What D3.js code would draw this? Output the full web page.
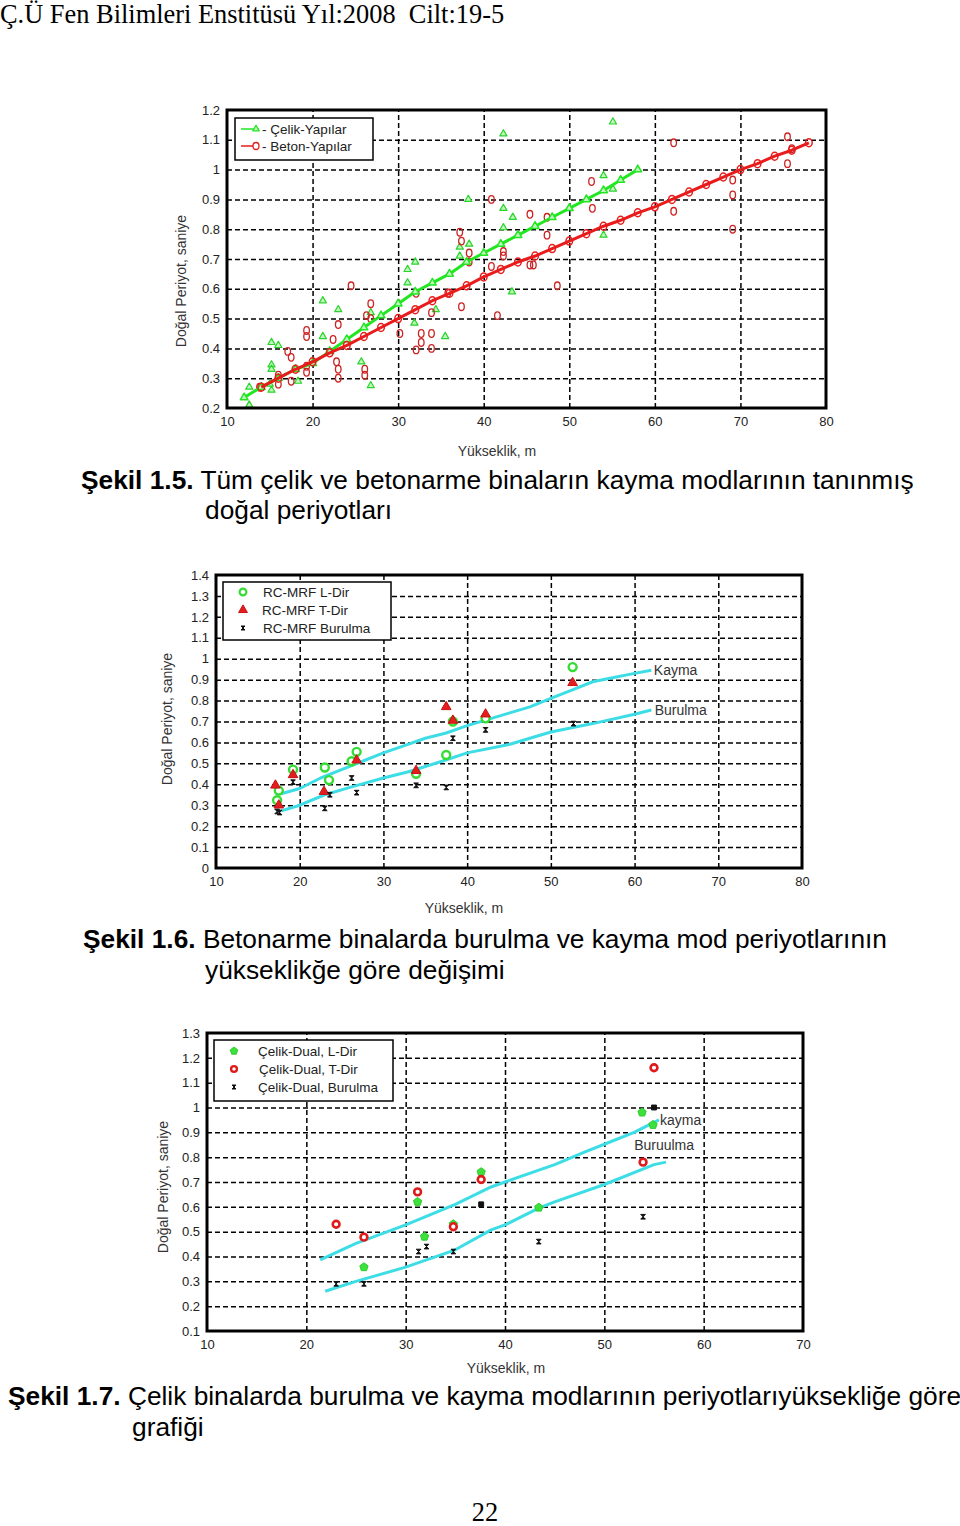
<!DOCTYPE html>
<meta charset="utf-8">
<style>
body { margin: 0; background: #fff; }
svg { display: block; background: #fff; }
.tick text { font-family: "Liberation Sans", Arial, sans-serif; font-size: 13px; fill: #222; }
.grid line { stroke: #000; stroke-dasharray: 5,3; stroke-width: 1.5px; }
.grid path, .grid text { display: none; }
.cap { font-family: "Liberation Sans", Arial, sans-serif; font-size: 26.3px; fill: #000; }
.lab { font-family: "Liberation Sans", Arial, sans-serif; font-size: 14px; fill: #333; }
.leg { font-family: "Liberation Sans", Arial, sans-serif; font-size: 13.5px; fill: #222; }
.serif { font-family: "Liberation Serif", "Times New Roman", serif; font-size: 26.4px; fill: #000; white-space: pre; }
</style>
<svg width="960" height="1526"></svg>
<script src="https://d3js.org/d3.v7.min.js"></script>
<script>

// ---- Şekil 1.5 : all steel / concrete buildings ----
var steelH = [12.6,12.6,15.2,16.0,15.2,15.2,15.2,15.0,18.3,21.2,21.2,23.0,25.7,26.8,26.8,31.1,31.1,32.0,31.9,34.4,35.5,37.2,37.2,38.3,38.2,42.3,42.3,42.3,54.0,55.1,55.1,43.4,54.0,43.3];
var steelT = [0.27,0.21,0.42,0.41,0.345,0.33,0.26,0.28,0.29,0.56,0.44,0.53,0.355,0.275,0.52,0.665,0.62,0.69,0.485,0.53,0.44,0.74,0.71,0.75,0.90,1.12,0.87,0.805,0.98,1.16,0.935,0.84,0.78,0.59];
var concH = [13.8,16,16,17.1,17.5,17.5,19.3,19.3,19.3,19.3,22.4,22.8,23,23,23,24.5,26.1,26.1,26.3,26.8,26.8,30.2,32.1,32.7,32.7,33.9,33.9,33.9,32.1,35.8,37.4,37.2,37.4,38.3,38.3,40.9,40.9,41.6,42.3,42.3,45.4,45.4,45.8,47.4,47.4,48.6,52.6,52.7,62.2,62.2,69.1,69.1,69.1,75.5,75.5,76.0];
var concT = [0.27,0.31,0.28,0.39,0.37,0.29,0.46,0.44,0.34,0.32,0.43,0.355,0.33,0.30,0.48,0.61,0.33,0.31,0.51,0.55,0.50,0.45,0.395,0.45,0.42,0.45,0.40,0.52,0.585,0.585,0.54,0.79,0.76,0.72,0.69,0.90,0.675,0.51,0.725,0.71,0.85,0.68,0.68,0.84,0.78,0.61,0.96,0.87,1.09,0.86,0.965,0.915,0.80,1.11,1.02,1.07];
var steelFitH = [12,14,16,18,20,22,24,26,28,30,32,34,36,38,40,42,44,46,48,50,52,54,56,58];
var steelFitT = [0.235,0.27,0.30,0.33,0.35,0.39,0.43,0.47,0.51,0.55,0.59,0.62,0.65,0.69,0.72,0.75,0.78,0.81,0.84,0.87,0.90,0.93,0.965,1.0];
var concFitH = [14,16,18,20,22,24,26,28,30,32,34,36,38,40,42,44,46,48,50,52,54,56,58,60,62,64,66,68,70,72,74,76,78];
var concFitT = [0.27,0.30,0.33,0.355,0.385,0.41,0.44,0.47,0.50,0.53,0.56,0.585,0.61,0.64,0.665,0.69,0.71,0.735,0.76,0.785,0.81,0.83,0.855,0.875,0.90,0.925,0.95,0.975,1.0,1.02,1.045,1.065,1.09];
var xTicks1 = [10,20,30,40,50,60,70,80];
var yTicks1 = [0.2,0.3,0.4,0.5,0.6,0.7,0.8,0.9,1.0,1.1,1.2];

// ---- Şekil 1.6 : RC-MRF ----
var rcLH = [17.3,17.5,19.2,23.0,23.5,26.2,26.8,33.9,37.5,38.3,42.2,52.6];
var rcLT = [0.324,0.37,0.47,0.48,0.42,0.51,0.555,0.45,0.54,0.70,0.715,0.96];
var rcTH = [17.1,17.5,19.2,22.9,26.8,33.9,37.5,38.3,42.2,52.6];
var rcTT = [0.395,0.30,0.445,0.365,0.515,0.465,0.77,0.705,0.735,0.885];
var rcBH = [17.3,17.6,19.2,23.0,23.6,26.2,26.8,33.9,37.5,38.3,42.2,52.7];
var rcBT = [0.27,0.265,0.41,0.285,0.35,0.43,0.36,0.395,0.385,0.62,0.66,0.69];
var rcKaymaH = [17.8,20,22.5,25,27.5,30,32.5,35,37.5,40,42.5,45,47.5,50,52.5,55,57.5,60,62];
var rcKaymaT = [0.355,0.38,0.43,0.47,0.51,0.55,0.585,0.62,0.645,0.68,0.71,0.74,0.77,0.81,0.85,0.89,0.91,0.93,0.945];
var rcBurH = [17.8,20,23,26,30,33,37,40,45,50,55,60,62];
var rcBurT = [0.273,0.30,0.35,0.385,0.43,0.46,0.51,0.55,0.59,0.65,0.69,0.735,0.755];
var xTicks2 = [10,20,30,40,50,60,70,80];
var yTicks2 = [0,0.1,0.2,0.3,0.4,0.5,0.6,0.7,0.8,0.9,1.0,1.1,1.2,1.3,1.4];

// ---- Şekil 1.7 : Steel dual ----
var duLH = [25.8,31.2,31.9,34.8,37.6,43.4,53.8,54.9];
var duLT = [0.357,0.62,0.48,0.53,0.74,0.597,0.98,0.93];
var duTH = [23.0,25.8,31.2,34.8,37.6,53.9,55.0];
var duTT = [0.53,0.478,0.66,0.52,0.71,0.78,1.16];
var duBH = [23.0,25.8,31.3,32.1,34.8,43.4,53.9];
var duBT = [0.29,0.29,0.42,0.44,0.42,0.46,0.56];
var duSqH = [37.6,55.0];
var duSqT = [0.61,1.0];
var duKaymaH = [21.4,25,30,35,38.6,40,45,48,50.5,53,55.5];
var duKaymaT = [0.386,0.453,0.527,0.61,0.68,0.70,0.77,0.82,0.86,0.90,0.95];
var duBurH = [21.9,25,30,35,38.6,40,43.4,45,50,55,56.2];
var duBurT = [0.26,0.30,0.357,0.427,0.507,0.527,0.595,0.62,0.69,0.77,0.78];
var xTicks3 = [10,20,30,40,50,60,70];
var yTicks3 = [0.1,0.2,0.3,0.4,0.5,0.6,0.7,0.8,0.9,1.0,1.1,1.2,1.3];

var svg = d3.select("svg");
var fmt = function(d) { return String(+d.toFixed(1)); };

// custom marker shapes
var hourglass = { draw: function(c, s) { var r = Math.sqrt(s) / 2; c.moveTo(-r, -r); c.lineTo(r, -r); c.lineTo(-r, r); c.lineTo(r, r); c.closePath(); } };
var pentagon = { draw: function(c, s) {
  var r = Math.sqrt(s / 2.38);
  for (var i = 0; i < 5; i++) {
    var a = -Math.PI / 2 + i * 2 * Math.PI / 5;
    if (i) c.lineTo(r * Math.cos(a), r * Math.sin(a)); else c.moveTo(r * Math.cos(a), r * Math.sin(a));
  }
  c.closePath();
} };

function pairs(xs, ys) { return xs.map(function(v, i) { return [v, ys[i]]; }); }

function makeChart(box, xd, yd, xt, yt) {
  var x = d3.scaleLinear().domain(xd).range([box.l, box.r]);
  var y = d3.scaleLinear().domain(yd).range([box.b, box.t]);
  var g = svg.append("g");
  g.append("rect").attr("x", box.l).attr("y", box.t).attr("width", box.r - box.l).attr("height", box.b - box.t).attr("fill", "#fff");
  g.append("g").attr("class", "grid").attr("transform", "translate(0," + box.b + ")")
    .call(d3.axisBottom(x).tickValues(xt.slice(1, -1)).tickSize(-(box.b - box.t)).tickFormat(""));
  g.append("g").attr("class", "grid").attr("transform", "translate(" + box.l + ",0)")
    .call(d3.axisLeft(y).tickValues(yt.slice(1, -1)).tickSize(-(box.r - box.l)).tickFormat(""));
  g.append("g").attr("transform", "translate(0," + (box.b + 1) + ")")
    .call(d3.axisBottom(x).tickValues(xt).tickSize(0).tickPadding(8).tickFormat(d3.format("d")))
    .call(function(a) { a.select(".domain").remove(); });
  g.append("g").attr("transform", "translate(" + (box.l - 2) + ",0)")
    .call(d3.axisLeft(y).tickValues(yt).tickSize(0).tickPadding(5).tickFormat(fmt))
    .call(function(a) { a.select(".domain").remove(); });
  return { x: x, y: y, g: g, box: box };
}

function finish(c, xlab, xlx, xly, ylx, yly) {
  c.g.append("rect").attr("x", c.box.l).attr("y", c.box.t).attr("width", c.box.r - c.box.l).attr("height", c.box.b - c.box.t)
    .attr("fill", "none").attr("stroke", "#000").attr("stroke-width", 3);
  c.g.append("text").attr("class", "lab").attr("x", xlx).attr("y", xly).attr("text-anchor", "middle").text(xlab);
  c.g.append("text").attr("class", "lab").attr("text-anchor", "middle")
    .attr("transform", "translate(" + ylx + "," + yly + ") rotate(-90)").text("Doğal Periyot, saniye");
}

function line(c, xs, ys, color, w) {
  c.g.append("path").datum(pairs(xs, ys))
    .attr("fill", "none").attr("stroke", color).attr("stroke-width", w).attr("stroke-linejoin", "round")
    .attr("d", d3.line().x(function(d) { return c.x(d[0]); }).y(function(d) { return c.y(d[1]); }));
}

function marks(c, xs, ys, type, size, fill, stroke, sw) {
  c.g.append("g").selectAll("path").data(pairs(xs, ys)).join("path")
    .attr("transform", function(d) { return "translate(" + c.x(d[0]) + "," + c.y(d[1]) + ")"; })
    .attr("d", d3.symbol().type(type).size(size))
    .attr("fill", fill).attr("stroke", stroke).attr("stroke-width", sw).attr("stroke-linejoin", "round");
}

function ellipses(c, xs, ys, stroke, rx, ry, sw) {
  c.g.append("g").selectAll("ellipse").data(pairs(xs, ys)).join("ellipse")
    .attr("cx", function(d) { return c.x(d[0]); }).attr("cy", function(d) { return c.y(d[1]); })
    .attr("rx", rx).attr("ry", ry).attr("fill", "none").attr("stroke", stroke).attr("stroke-width", sw);
}

function legendBox(c, x0, y0, x1, y1) {
  c.g.append("rect").attr("x", x0).attr("y", y0).attr("width", x1 - x0).attr("height", y1 - y0)
    .attr("fill", "#fff").attr("stroke", "#000").attr("stroke-width", 1.5);
}
function legendMark(c, px, py, type, size, fill, stroke, sw) {
  c.g.append("path").attr("transform", "translate(" + px + "," + py + ")")
    .attr("d", d3.symbol().type(type).size(size)).attr("fill", fill).attr("stroke", stroke).attr("stroke-width", sw).attr("stroke-linejoin", "round");
}
function legendText(c, px, py, s) {
  c.g.append("text").attr("class", "leg").attr("x", px).attr("y", py).attr("dy", "0.35em").text(s);
}

// header
svg.append("text").attr("class", "serif").attr("x", 0).attr("y", 23).text("Ç.Ü Fen Bilimleri Enstitüsü Yıl:2008  Cilt:19-5");

// ===== Chart 1 =====
var c1 = makeChart({ l: 227, r: 826, t: 110, b: 408 }, [10, 80], [0.2, 1.2], xTicks1, yTicks1);
var green1 = "#22e622", red1 = "#e81c1c";
marks(c1, steelH, steelT, d3.symbolTriangle, 22, "#bff7bf", "#2ad42a", 1.2);
ellipses(c1, concH, concT, "#cc2222", 2.8, 3.8, 1.3);
line(c1, steelFitH, steelFitT, green1, 3);
marks(c1, steelFitH, steelFitT, d3.symbolTriangle, 26, "#bff7bf", green1, 1.5);
line(c1, concFitH, concFitT, red1, 3);
ellipses(c1, concFitH, concFitT, red1, 3.3, 4, 1.5);
finish(c1, "Yükseklik, m", 497, 456, 186, 281);
legendBox(c1, 235, 118, 373, 160);
c1.g.append("line").attr("x1", 241).attr("x2", 259).attr("y1", 129).attr("y2", 129).attr("stroke", green1).attr("stroke-width", 1.5);
legendMark(c1, 256, 129, d3.symbolTriangle, 18, "#bff7bf", green1, 1.2);
legendText(c1, 262, 129, "- Çelik-Yapılar");
c1.g.append("line").attr("x1", 241).attr("x2", 259).attr("y1", 146).attr("y2", 146).attr("stroke", red1).attr("stroke-width", 1.5);
c1.g.append("ellipse").attr("cx", 256).attr("cy", 146).attr("rx", 3).attr("ry", 3.5).attr("fill", "#fff").attr("stroke", red1).attr("stroke-width", 1.3);
legendText(c1, 262, 146, "- Beton-Yapılar");

svg.append("text").attr("class", "cap").attr("x", 81).attr("y", 489)
  .call(function(t) {
    t.append("tspan").attr("font-weight", "bold").text("Şekil 1.5.");
    t.append("tspan").text(" Tüm çelik ve betonarme binaların kayma modlarının tanınmış");
  });
svg.append("text").attr("class", "cap").attr("x", 205).attr("y", 519).text("doğal periyotları");

// ===== Chart 2 =====
var c2 = makeChart({ l: 216, r: 802, t: 575, b: 868 }, [10, 80], [0, 1.4], xTicks2, yTicks2);
var cyan = "#3ddde6";
line(c2, rcKaymaH, rcKaymaT, cyan, 3);
line(c2, rcBurH, rcBurT, cyan, 3);
marks(c2, rcLH, rcLT, d3.symbolCircle, 50, "#fff", "#33dd33", 2.4);
marks(c2, rcTH, rcTT, d3.symbolTriangle, 40, "#e41e1e", "#c81010", 1);
marks(c2, rcBH, rcBT, hourglass, 22, "#111", "#111", 1);
c2.g.append("text").attr("class", "lab").attr("x", c2.x(62.3)).attr("y", c2.y(0.945)).attr("dy", "0.35em").text("Kayma");
c2.g.append("text").attr("class", "lab").attr("x", c2.x(62.4)).attr("y", c2.y(0.755)).attr("dy", "0.35em").text("Burulma");
finish(c2, "Yükseklik, m", 464, 913, 172, 719);
legendBox(c2, 223, 582, 391, 640);
legendMark(c2, 243, 592, d3.symbolCircle, 36, "#fff", "#33dd33", 2.2);
legendText(c2, 263, 592, "RC-MRF L-Dir");
legendMark(c2, 243, 610, d3.symbolTriangle, 34, "#e41e1e", "#c81010", 1);
legendText(c2, 262, 610, "RC-MRF T-Dir");
legendMark(c2, 243, 628, hourglass, 16, "#111", "#111", 1);
legendText(c2, 263, 628, "RC-MRF Burulma");

svg.append("text").attr("class", "cap").attr("x", 83).attr("y", 948)
  .call(function(t) {
    t.append("tspan").attr("font-weight", "bold").text("Şekil 1.6.");
    t.append("tspan").text(" Betonarme binalarda burulma ve kayma mod periyotlarının");
  });
svg.append("text").attr("class", "cap").attr("x", 205).attr("y", 979).text("yükseklikğe göre değişimi");

// ===== Chart 3 =====
var c3 = makeChart({ l: 207, r: 803, t: 1033, b: 1331 }, [10, 70], [0.1, 1.3], xTicks3, yTicks3);
line(c3, duKaymaH, duKaymaT, cyan, 3);
line(c3, duBurH, duBurT, cyan, 3);
marks(c3, duLH, duLT, pentagon, 45, "#3ee03e", "#2ccc2c", 1);
marks(c3, duTH, duTT, d3.symbolCircle, 36, "#fff", "#e01a1a", 2.6);
marks(c3, duBH, duBT, hourglass, 22, "#111", "#111", 1);
marks(c3, duSqH, duSqT, d3.symbolSquare, 24, "#111", "#111", 1);
c3.g.append("text").attr("class", "lab").attr("x", c3.x(55.6)).attr("y", c3.y(0.95)).attr("dy", "0.35em").text("kayma");
c3.g.append("text").attr("class", "lab").attr("x", c3.x(53.0)).attr("y", c3.y(0.85)).attr("dy", "0.35em").text("Buruulma");
finish(c3, "Yükseklik, m", 506, 1373, 168, 1187);
legendBox(c3, 214, 1040, 393, 1101);
legendMark(c3, 234, 1051, pentagon, 36, "#3ee03e", "#2ccc2c", 1);
legendText(c3, 258, 1051, "Çelik-Dual, L-Dir");
legendMark(c3, 234, 1069, d3.symbolCircle, 26, "#fff", "#e01a1a", 2.4);
legendText(c3, 259, 1069, "Çelik-Dual, T-Dir");
legendMark(c3, 234, 1087, hourglass, 16, "#111", "#111", 1);
legendText(c3, 258, 1087, "Çelik-Dual, Burulma");

svg.append("text").attr("class", "cap").attr("x", 8).attr("y", 1405)
  .call(function(t) {
    t.append("tspan").attr("font-weight", "bold").text("Şekil 1.7.");
    t.append("tspan").text(" Çelik binalarda burulma ve kayma modlarının periyotlarıyüksekliğe göre");
  });
svg.append("text").attr("class", "cap").attr("x", 132).attr("y", 1436).text("grafiği");

// page number
svg.append("text").attr("class", "serif").attr("x", 485).attr("y", 1521).attr("text-anchor", "middle").text("22");

</script>
